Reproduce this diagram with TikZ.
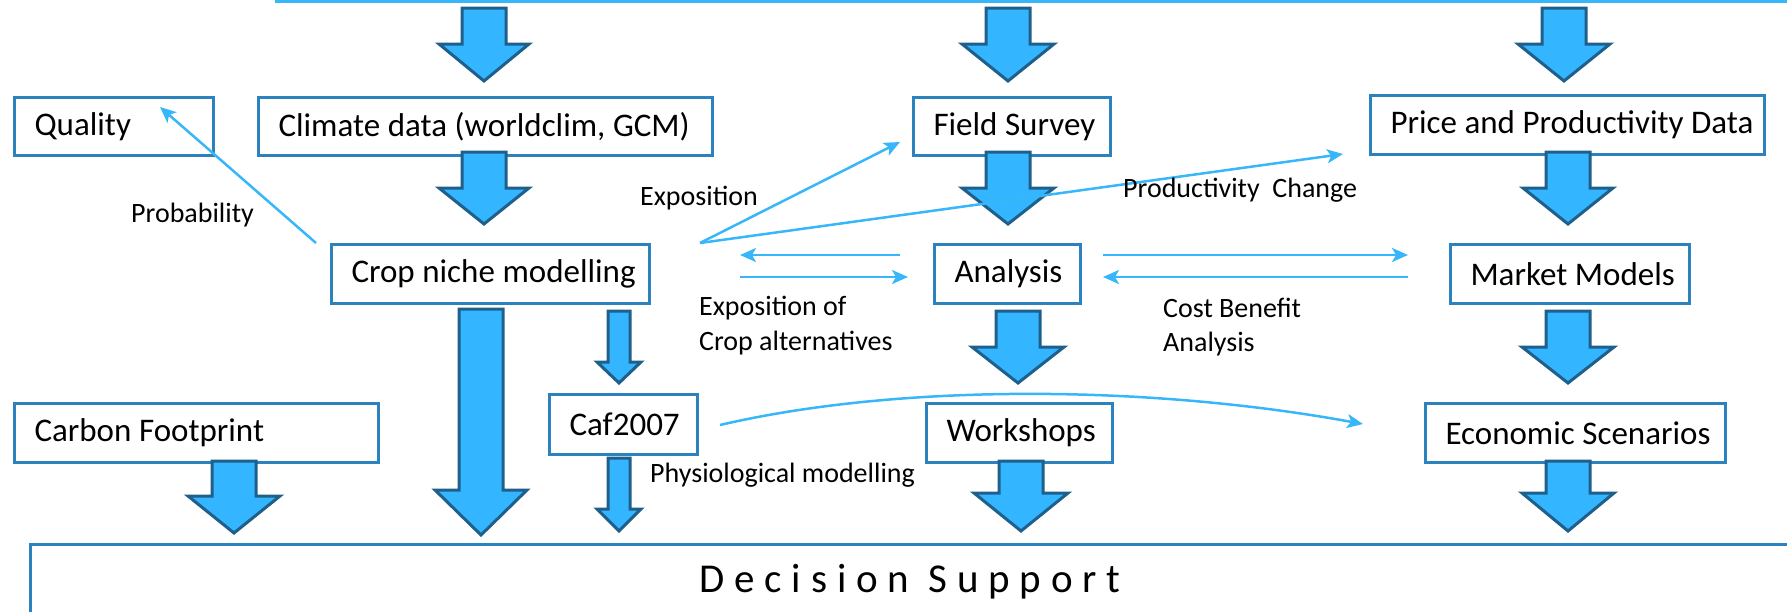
\documentclass[tikz,border=0pt]{standalone}
\usepackage{fontspec}
\setmainfont{Carlito}
\usetikzlibrary{arrows.meta,calc}
\definecolor{afill}{HTML}{33B5FF}
\definecolor{aedge}{HTML}{1F5F8B}
\definecolor{bedge}{HTML}{2B82BE}
\definecolor{thinc}{HTML}{38B6FA}
\newcommand\BlkArrow[7]{% name, cx, top, wing y, tip y, shaft half width, head half width
  \draw[blk] (#2-#6,#3) -- (#2+#6,#3) -- (#2+#6,#4) -- (#2+#7,#4) -- (#2,#5) coordinate (#1) -- (#2-#7,#4) -- (#2-#6,#4) -- cycle;}
\newcommand\BoxTxt[1]{\spaceskip=.23em\relax\mbox{#1}}
\tikzset{
  blk/.style={fill=afill, draw=aedge, line width=3pt, line join=miter},
  box/.style={draw=bedge, fill=white, line width=3pt, inner xsep=20pt, inner ysep=0pt, anchor=north west, align=left, font=\fontsize{33}{40}\selectfont},
  lbl/.style={anchor=base west, inner sep=0pt, font=\fontsize{28}{34}\selectfont},
  conn/.style={draw=thinc, line width=2.5pt, -{Stealth[length=16pt,width=14pt,inset=4pt]}},
}
\begin{document}
\begin{tikzpicture}[x=1pt,y=-1pt]
\useasboundingbox (0,0) rectangle (1787,611);
% top line
\coordinate (tl1) at (275,1); \coordinate (tl2) at (1800,1);
\draw[draw=thinc, line width=3pt] (tl1) -- (tl2);
% boxes
\node[box, text width=159pt, minimum height=58pt] (quality) at (13,96) {\BoxTxt{Quality}};
\node[box, text width=414pt, minimum height=58pt] (climate) at (257,96) {\BoxTxt{Climate data (worldclim, GCM)}};
\node[box, text width=157pt, minimum height=58pt] (field) at (912,96) {\BoxTxt{Field Survey}};
\node[box, text width=354pt, minimum height=59pt] (price) at (1369,94) {\BoxTxt{Price and Productivity Data}};
\node[box, text width=278pt, minimum height=59pt] (crop) at (330,243) {\BoxTxt{Crop niche modelling}};
\node[box, text width=106pt, minimum height=59pt] (analysis) at (933,243) {\BoxTxt{Analysis}};
\node[box, text width=199pt, minimum height=59pt] (market) at (1449,243) {\BoxTxt{Market Models}};
\node[box, text width=324pt, minimum height=59pt] (carbon) at (13,402) {\BoxTxt{Carbon Footprint}};
\node[box, text width=108pt, minimum height=60pt] (caf) at (548,393) {\BoxTxt{Caf2007}};
\node[box, text width=146pt, minimum height=59pt] (workshops) at (925,402) {\BoxTxt{Workshops}};
\node[box, text width=260pt, minimum height=59pt] (econ) at (1424,402) {\BoxTxt{Economic Scenarios}};
\node[draw=bedge, line width=3pt, anchor=north west, minimum width=1800pt, minimum height=120pt, inner sep=0pt] (decision) at (29,543) {};
\node[font=\fontsize{41}{48}\selectfont\addfontfeature{LetterSpace=24}, inner sep=0pt] (dstext) at (910,582) {Decision Support};
% block arrows
\BlkArrow{a1}{484}{8}{44}{81}{22}{45}
\BlkArrow{a2}{1008}{8}{44}{81}{22}{46}
\BlkArrow{a3}{1564}{8}{44}{81}{22}{46}
\BlkArrow{a4}{484}{152}{188}{224}{22}{45}
\BlkArrow{a5}{1008}{152}{188}{224}{22}{46}
\BlkArrow{a6}{1568}{152}{188}{224}{22}{45}
\BlkArrow{a7}{481}{309}{490}{535}{22}{46}
\BlkArrow{a8}{619}{311}{362}{383}{11}{22}
\BlkArrow{a9}{619}{458}{509}{531}{11}{22}
\BlkArrow{a10}{1018}{311}{347}{383}{22}{46}
\BlkArrow{a11}{1568}{311}{347}{383}{22}{46}
\BlkArrow{a12}{234}{461}{496}{533}{22}{46}
\BlkArrow{a13}{1021}{461}{493}{531}{22}{47}
\BlkArrow{a14}{1568}{461}{493}{531}{22}{46}
% thin connectors
\coordinate (pS) at (316,243); \coordinate (pE) at (160,107);
\draw[conn] (pS) -- (pE);
\coordinate (xS) at (700,243); \coordinate (xF) at (900,142); \coordinate (xP) at (1343,154);
\draw[conn] (xS) -- (xF);
\draw[conn] (xS) -- (xP);
\coordinate (h1a) at (900,255); \coordinate (h1b) at (740,255);
\draw[conn] (h1a) -- (h1b);
\coordinate (h2a) at (740,277); \coordinate (h2b) at (908,277);
\draw[conn] (h2a) -- (h2b);
\coordinate (h3a) at (1103,255); \coordinate (h3b) at (1408,255);
\draw[conn] (h3a) -- (h3b);
\coordinate (h4a) at (1408,277); \coordinate (h4b) at (1103,277);
\draw[conn] (h4a) -- (h4b);
\coordinate (c1) at (720,425); \coordinate (c2) at (1363,424);
\draw[conn] (c1) .. controls (900,383) and (1150,385) .. (c2);
% labels
\node[lbl] (lprob) at (131,222) {Probability};
\node[lbl] (lexp) at (640,205) {Exposition};
\node[lbl] (lprod) at (1123,197) {Productivity\ \ Change};
\node[lbl] (lexo1) at (699,315) {Exposition of};
\node[lbl] (lexo2) at (699,350) {Crop alternatives};
\node[lbl] (lcb1) at (1163,317) {Cost Benefit};
\node[lbl] (lcb2) at (1163,351) {Analysis};
\node[lbl] (lphys) at (650,482) {Physiological modelling};
\end{tikzpicture}
\end{document}
